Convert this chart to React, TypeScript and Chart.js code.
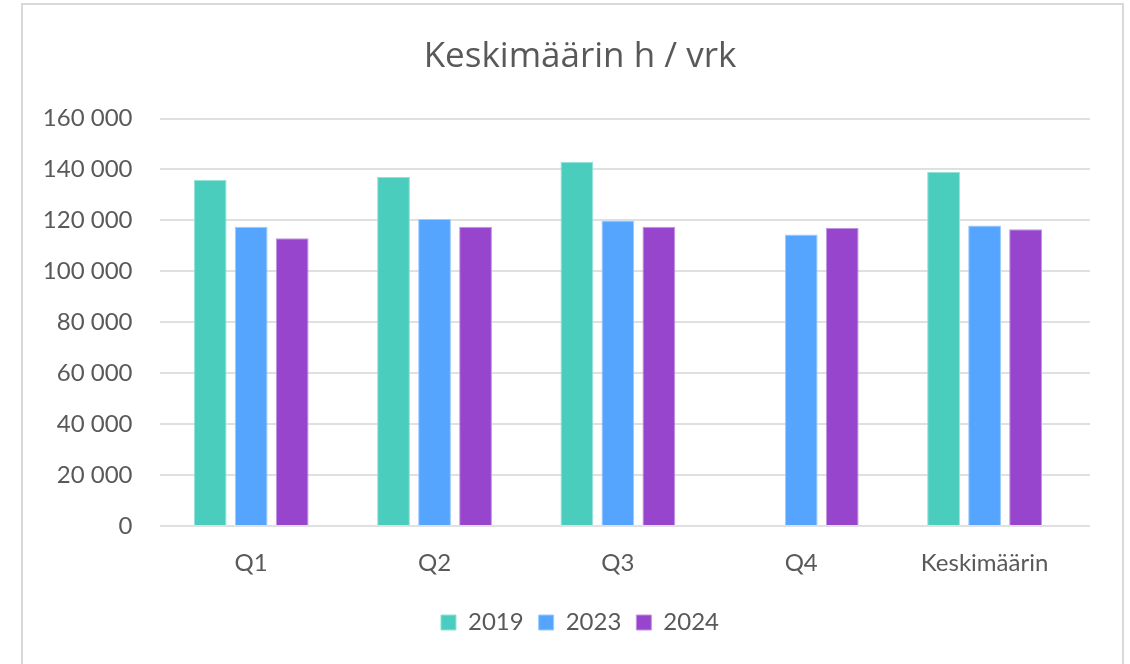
import React, { useEffect, useRef } from "react";
import { Chart, registerables } from "chart.js";

Chart.register(...registerables);

const categories: string[] = ["Q1", "Q2", "Q3", "Q4", "Keskimäärin"];
const seriesNames: string[] = ["2019", "2023", "2024"];
const values2019: (number | null)[] = [136000, 137000, 143000, null, 139000];
const values2023: (number | null)[] = [117500, 120500, 120000, 114500, 118000];
const values2024: (number | null)[] = [113000, 117500, 117500, 117000, 116500];
const yTicks: number[] = [0, 20000, 40000, 60000, 80000, 100000, 120000, 140000, 160000];
const fills: string[] = ["#4BCDBE", "#55A5FF", "#9645CC"];
const edges: string[] = ["#93E2D8", "#9CCBFF", "#C194E0"];

const TEXT = "#595959";
const FONT = "Lato";
const HEADER_SHIFT = 70;

function fmt(v: number): string {
  return String(Math.round(v)).replace(/\B(?=(\d{3})+(?!\d))/g, " ");
}

const shiftHeaderPlugin = {
  id: "shiftHeader",
  afterLayout(chart: any) {
    if (chart.titleBlock) chart.titleBlock.left += HEADER_SHIFT;
    if (chart.legend) chart.legend.left += HEADER_SHIFT;
  },
};

export default function App() {
  const ref = useRef<HTMLCanvasElement | null>(null);
  useEffect(() => {
    if (!ref.current) return;
    const all = [values2019, values2023, values2024];
    const chart = new Chart(ref.current, {
      type: "bar",
      data: {
        datasets: all.map((vals, d) => ({
          label: seriesNames[d],
          data: vals.map((v, i) => ({ x: i, y: v })),
          backgroundColor: fills[d],
          borderColor: edges[d],
          borderWidth: 1,
          categoryPercentage: 0.671,
          barPercentage: 0.8,
        })),
      },
      plugins: [shiftHeaderPlugin],
      options: {
        animation: false,
        responsive: true,
        maintainAspectRatio: false,
        layout: { padding: { left: 0, right: 40, top: 0, bottom: 19.5 } },
        plugins: {
          title: {
            display: true,
            text: "Keskimäärin h / vrk",
            color: TEXT,
            font: { family: "Open Sans", size: 35, weight: "normal" },
            padding: { top: 36, bottom: 40.5 },
          },
          legend: {
            position: "bottom",
            labels: {
              color: TEXT,
              font: { family: FONT, size: 24 },
              boxWidth: 15,
              boxHeight: 15,
              padding: 15,
            },
          },
          tooltip: { enabled: false },
        },
        scales: {
          x: {
            type: "linear",
            offset: false,
            min: -0.5,
            max: 4.575,
            grid: { display: false, drawTicks: false, offset: false },
            border: { display: false },
            afterBuildTicks: (scale: any) => {
              scale.ticks = categories.map((_, i) => ({ value: i }));
            },
            afterFit: (scale: any) => {
              scale.height = 69.5;
            },
            ticks: {
              color: TEXT,
              font: { family: FONT, size: 24 },
              padding: 22.5,
              autoSkip: false,
              maxRotation: 0,
              callback: (v: any) => categories[Math.round(Number(v))] ?? "",
            },
          },
          y: {
            min: 0,
            max: 160000,
            afterBuildTicks: (scale: any) => {
              scale.ticks = yTicks.map((v) => ({ value: v }));
            },
            afterFit: (scale: any) => {
              scale.width = 159.5;
            },
            grid: { color: "#E0E0E0", lineWidth: 2, drawTicks: false },
            border: { display: false },
            ticks: {
              color: TEXT,
              font: { family: FONT, size: 24 },
              padding: 27,
              callback: (v: any) => fmt(Number(v)),
            },
          },
        },
      },
    });
    return () => chart.destroy();
  }, []);

  return (
    <div style={{ position: "fixed", left: 0, top: 0, width: 1130, height: 664, overflow: "hidden", background: "#fff" }}>
      <div
        style={{
          position: "absolute",
          left: 21,
          top: 3,
          width: 1103,
          height: 720,
          boxSizing: "border-box",
          border: "2px solid #D9D9D9",
        }}
      />
      <div style={{ position: "absolute", left: 0, top: 0, width: 1130, height: 664 }}>
        <canvas ref={ref} />
      </div>
    </div>
  );
}
